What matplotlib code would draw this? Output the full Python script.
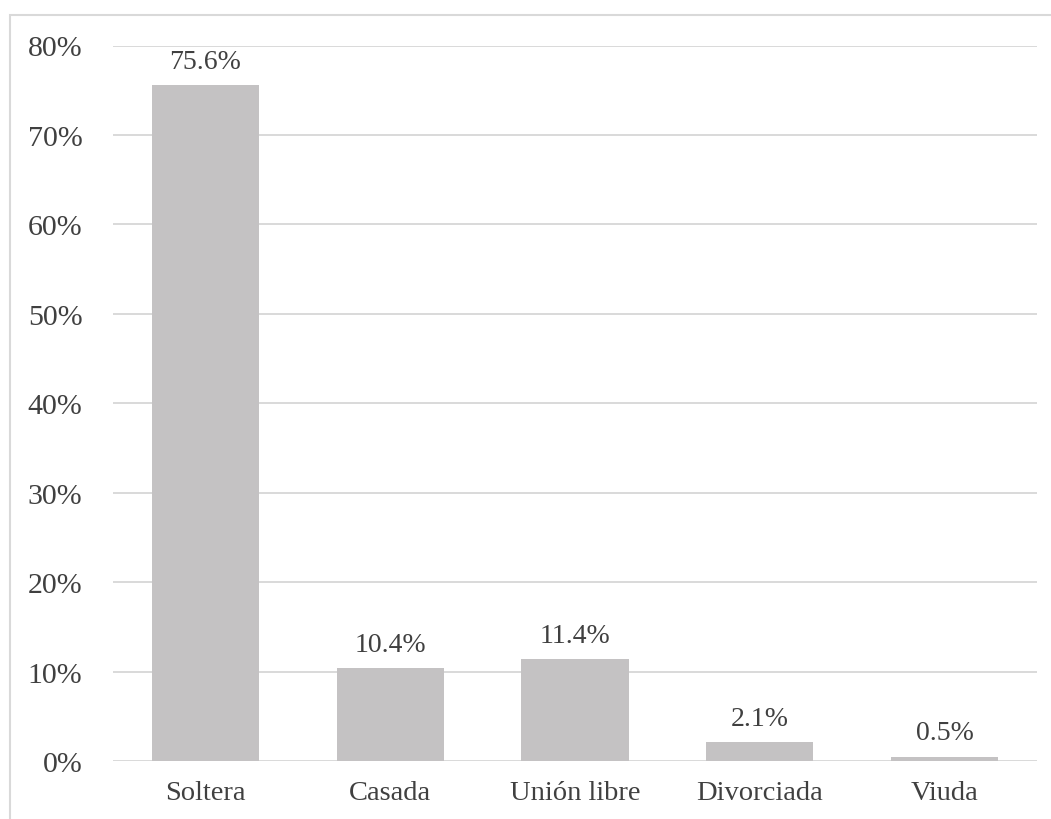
import matplotlib.pyplot as plt
from matplotlib.patches import Rectangle
import numpy as np

# Estado civil (porcentajes)
categories = ['Soltera', 'Casada', 'Unión libre', 'Divorciada', 'Viuda']
values = [75.6, 10.4, 11.4, 2.1, 0.5]
yticks = [0, 10, 20, 30, 40, 50, 60, 70, 80]

plt.rcParams['font.family'] = ['Liberation Serif', 'DejaVu Serif']
text_color = '#404040'

W, H = 1051, 820
fig = plt.figure(figsize=(W / 100, H / 100), dpi=100)
ax = fig.add_axes([113 / W, (H - 762) / H, (1037 - 113) / W, (762 - 46.5) / H])

x = np.arange(len(categories))
bars = ax.bar(x, values, width=0.58, color='#C4C2C3', zorder=3)
ax.bar_label(bars, labels=[f'{v}%' for v in values], padding=8,
             fontsize=20, color=text_color)

ax.set_xlim(-0.5, len(categories) - 0.5)
ax.set_ylim(0, 80)
ax.set_yticks(yticks)
ax.set_yticklabels([f'{t}%' for t in yticks])
ax.set_xticks(x)
ax.set_xticklabels(categories)
ax.tick_params(axis='y', length=0, pad=22, labelsize=21.5, labelcolor=text_color)
ax.tick_params(axis='x', length=0, pad=14, labelsize=20.5, labelcolor=text_color)
ax.yaxis.grid(True, color='#D9D9D9', linewidth=1.4, zorder=0)
for s in ax.spines.values():
    s.set_visible(False)

# chart border (runs off the right and bottom edges of the image)
fig.patches.append(Rectangle((10 / W, -0.1), 1.2, (H - 16) / H + 0.1,
                             transform=fig.transFigure, fill=False,
                             edgecolor='#D9D9D9', linewidth=1.5))

fig.savefig('out.png', dpi=100)
